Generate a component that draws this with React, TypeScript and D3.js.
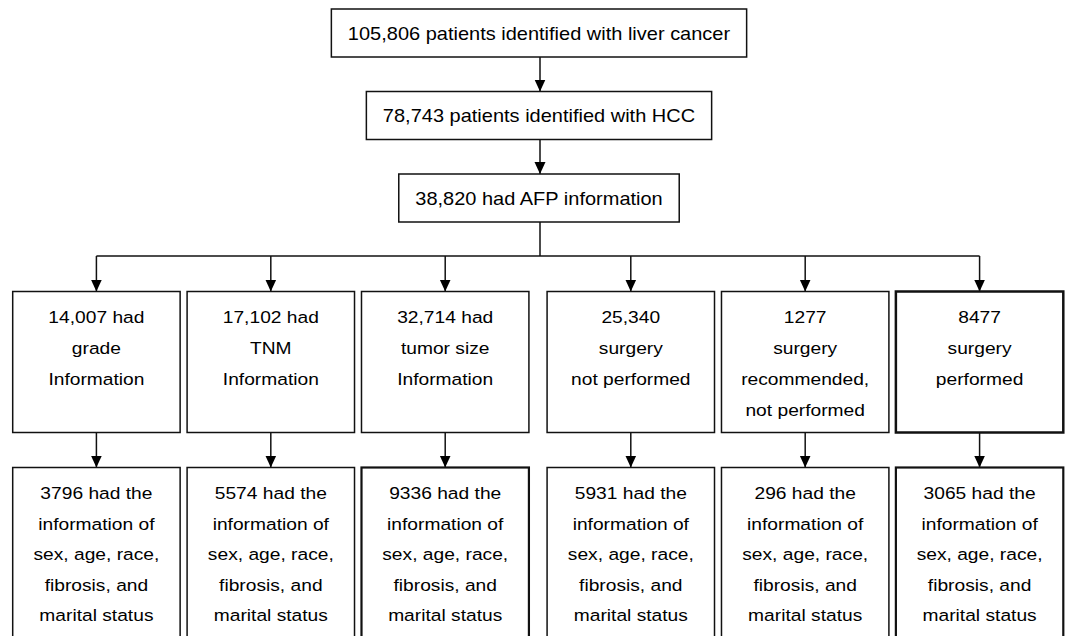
import { useEffect, useRef } from 'react';
import * as d3 from 'd3';

const topLabels = [
  '105,806 patients identified with liver cancer',
  '78,743 patients identified with HCC',
  '38,820 had AFP information',
];

const groups = ['information', 'surgery'];

const branchLines = [
  ['14,007 had', 'grade', 'Information'],
  ['17,102 had', 'TNM', 'Information'],
  ['32,714 had', 'tumor size', 'Information'],
  ['25,340', 'surgery', 'not performed'],
  ['1277', 'surgery', 'recommended,', 'not performed'],
  ['8477', 'surgery', 'performed'],
];

const subsetCounts = ['3796', '5574', '9336', '5931', '296', '3065'];
const subsetTail = ['information of', 'sex, age, race,', 'fibrosis, and', 'marital status'];

const W = 1065;
const H = 636;
const FONT = '"Liberation Sans", Arial, Helvetica, sans-serif';
const STRETCH = 1.13;

export default function App() {
  const svgRef = useRef<SVGSVGElement>(null);

  useEffect(() => {
    if (!svgRef.current) return;
    const svg = d3.select(svgRef.current);
    svg.selectAll('*').remove();

    svg.append('rect').attr('width', W).attr('height', H).attr('fill', '#fff');

    // arrow head
    svg.append('defs')
      .append('marker')
      .attr('id', 'arrow')
      .attr('markerUnits', 'userSpaceOnUse')
      .attr('viewBox', '0 0 12 12')
      .attr('refX', 12)
      .attr('refY', 6)
      .attr('markerWidth', 12)
      .attr('markerHeight', 12)
      .attr('orient', 'auto')
      .append('path')
      .attr('d', 'M0,0.5 L12,6 L0,11.5 Z')
      .attr('fill', '#000');

    const cx = 539;
    const topH = 48;
    const yTop = d3.scalePoint<string>().domain(topLabels).range([9, 174]);

    // horizontal layout of the six branches
    const outer = d3.scaleBand<string>().domain(groups).range([12.7, 1063.3]).paddingInner(0.034);
    const inner = d3.scaleBand<number>().domain([0, 1, 2]).range([0, outer.bandwidth()]).paddingInner(0.04);
    const bx = (i: number) => (outer(groups[Math.floor(i / 3)]) || 0) + (inner(i % 3) || 0);
    const bw = inner.bandwidth();
    const bcx = (i: number) => bx(i) + bw / 2;

    const row1Top = 291.5;
    const row1Bottom = 432.5;
    const row2Top = 467.5;
    const splitY = 256;

    const stretchText = (
      g: d3.Selection<SVGGElement, unknown, null, undefined>,
      x: number,
      y: number,
      txt: string,
      size: number
    ) =>
      g.append('text')
        .attr('transform', `translate(${x},${y}) scale(${STRETCH},1)`)
        .attr('text-anchor', 'middle')
        .attr('font-family', FONT)
        .attr('font-size', size)
        .attr('fill', '#000')
        .text(txt);

    const lines = svg.append('g');
    const boxes = svg.append('g');

    // top chain
    topLabels.forEach((lab, i) => {
      const y = yTop(lab) || 0;
      const g = boxes.append('g');
      const rect = g.append('rect');
      const t = stretchText(g, cx, y + topH / 2 + 6.5, lab, 17.7);
      const tw = (t.node() as SVGTextElement).getComputedTextLength() * STRETCH;
      const w = tw + 33;
      rect
        .attr('x', cx - w / 2)
        .attr('y', y)
        .attr('width', w)
        .attr('height', topH)
        .attr('fill', '#fff')
        .attr('stroke', '#111')
        .attr('stroke-width', 1.5);
      if (i < topLabels.length - 1) {
        lines.append('line')
          .attr('x1', cx + 1).attr('x2', cx + 1)
          .attr('y1', y + topH).attr('y2', (yTop(topLabels[i + 1]) || 0))
          .attr('stroke', '#111').attr('stroke-width', 1.5)
          .attr('marker-end', 'url(#arrow)');
      }
    });

    const lastTop = (yTop(topLabels[topLabels.length - 1]) || 0) + topH;
    lines.append('line')
      .attr('x1', cx + 1).attr('x2', cx + 1)
      .attr('y1', lastTop).attr('y2', splitY)
      .attr('stroke', '#111').attr('stroke-width', 1.5);
    lines.append('line')
      .attr('x1', bcx(0)).attr('x2', bcx(branchLines.length - 1))
      .attr('y1', splitY).attr('y2', splitY)
      .attr('stroke', '#111').attr('stroke-width', 1.5);

    branchLines.forEach((ls, i) => {
      const x = bcx(i);
      const heavy = i === branchLines.length - 1;
      lines.append('line')
        .attr('x1', x).attr('x2', x)
        .attr('y1', splitY).attr('y2', row1Top)
        .attr('stroke', '#111').attr('stroke-width', 1.5)
        .attr('marker-end', 'url(#arrow)');
      lines.append('line')
        .attr('x1', x).attr('x2', x)
        .attr('y1', row1Bottom).attr('y2', row2Top)
        .attr('stroke', '#111').attr('stroke-width', 1.5)
        .attr('marker-end', 'url(#arrow)');

      const g1 = boxes.append('g');
      g1.append('rect')
        .attr('x', bx(i)).attr('y', row1Top)
        .attr('width', bw).attr('height', row1Bottom - row1Top)
        .attr('fill', '#fff').attr('stroke', '#111')
        .attr('stroke-width', heavy ? 2.5 : 1.5);
      ls.forEach((l, k) => stretchText(g1, x, row1Top + 31 + k * 31, l, 17));

      const g2 = boxes.append('g');
      g2.append('rect')
        .attr('x', bx(i)).attr('y', row2Top)
        .attr('width', bw).attr('height', H - row2Top + 20)
        .attr('fill', '#fff').attr('stroke', '#111')
        .attr('stroke-width', heavy || i === 2 ? 2.2 : 1.5);
      [`${subsetCounts[i]} had the`, ...subsetTail].forEach((l, k) =>
        stretchText(g2, x, row2Top + 31.5 + k * 30.5, l, 17)
      );
    });
  }, []);

  return (
    <svg
      ref={svgRef}
      width={W}
      height={H}
      style={{ display: 'block', position: 'absolute', left: 0, top: 0 }}
    />
  );
}
